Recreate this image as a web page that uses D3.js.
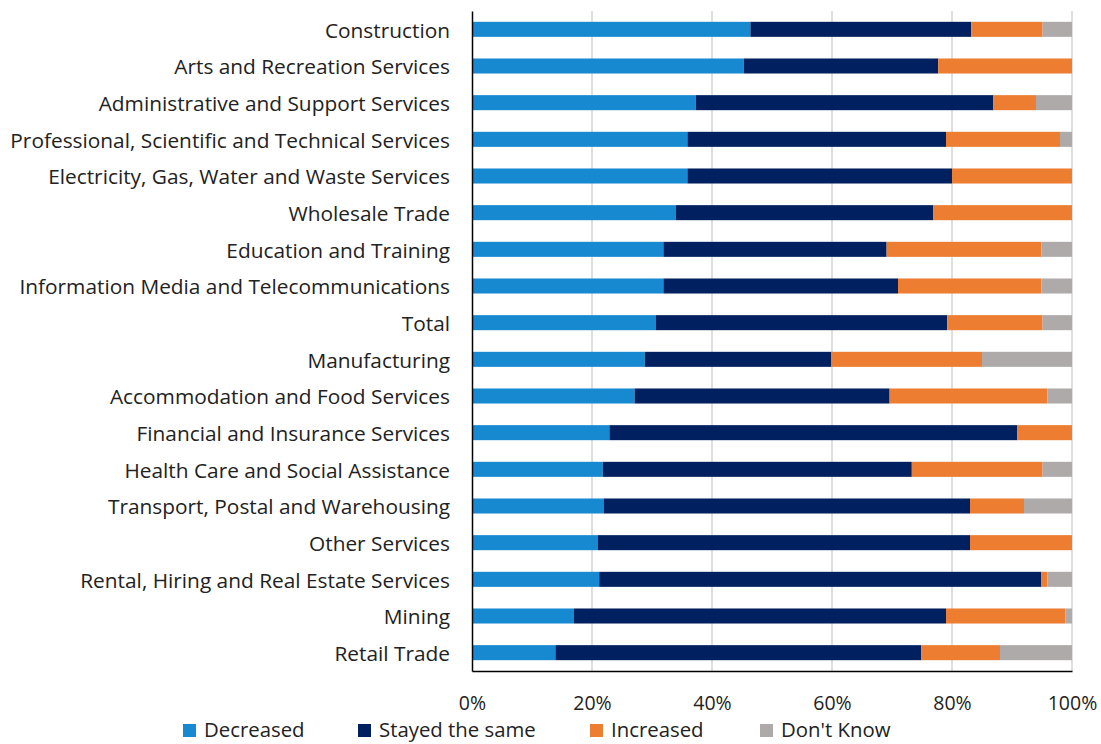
<!DOCTYPE html>
<html>
<head>
<meta charset="utf-8">
<script src="https://cdn.jsdelivr.net/npm/d3@7"></script>
<style>
  body { margin: 0; background: #fff; }
  svg { display: block; font-family: "Open Sans", "Noto Sans", sans-serif; }
</style>
</head>
<body>
<div id="chart"></div>
<script>
// categories, top to bottom
var categories = ["Construction", "Arts and Recreation Services", "Administrative and Support Services",
  "Professional, Scientific and Technical Services", "Electricity, Gas, Water and Waste Services",
  "Wholesale Trade", "Education and Training", "Information Media and Telecommunications", "Total",
  "Manufacturing", "Accommodation and Food Services", "Financial and Insurance Services",
  "Health Care and Social Assistance", "Transport, Postal and Warehousing", "Other Services",
  "Rental, Hiring and Real Estate Services", "Mining", "Retail Trade"];

var seriesNames = ["Decreased", "Stayed the same", "Increased", "Don't Know"];
var seriesColors = ["#1789d0", "#002060", "#ed7d31", "#aeaaaa"];

// percent values per series, same order as categories
var decreased = [46.4, 45.3, 37.3, 35.9, 35.9, 34.0, 31.9, 31.9, 30.6, 28.8, 27.1, 22.9, 21.8, 22.0, 21.0, 21.2, 17.0, 13.9];
var stayed    = [36.8, 32.4, 49.6, 43.1, 44.1, 42.9, 37.2, 39.1, 48.6, 31.1, 42.5, 68.0, 51.5, 61.0, 62.0, 73.7, 62.0, 61.0];
var increased = [11.9, 22.3,  7.1, 19.0, 20.0, 23.1, 25.8, 23.9, 15.9, 25.1, 26.3,  9.1, 21.8,  9.0, 17.0,  1.0, 19.9, 13.1];
var dontKnow  = [ 4.9,  0.0,  6.0,  2.0,  0.0,  0.0,  5.1,  5.1,  4.9, 15.0,  4.1,  0.0,  4.9,  8.0,  0.0,  4.1,  1.1, 12.0];

var tickValues = [0, 0.2, 0.4, 0.6, 0.8, 1.0];

// dimensions
var W = 1101, H = 744;
var margin = {top: 11, left: 472, right: 29, bottom: 73};
var plotW = W - margin.left - margin.right, plotH = H - margin.top - margin.bottom;
var labelFont = "'Open Sans', 'Noto Sans', sans-serif";

var table = categories.map(function(c, i) {
  return {cat: c, "Decreased": decreased[i], "Stayed the same": stayed[i],
    "Increased": increased[i], "Don't Know": dontKnow[i]};
});
var stacked = d3.stack().keys(seriesNames)
  .offset(d3.stackOffsetExpand)(table);

var x = d3.scaleLinear().domain([0, 1]).range([0, plotW]);
var y = d3.scaleBand().domain(categories).range([0, plotH]).paddingInner(0.59).paddingOuter(0.295);
var color = d3.scaleOrdinal().domain(seriesNames).range(seriesColors);

var svg = d3.select("#chart").append("svg")
  .attr("width", W).attr("height", H);

var g = svg.append("g")
  .attr("transform", `translate(${margin.left}, ${margin.top})`);

// vertical gridlines
g.append("g").selectAll("line")
  .data(tickValues.slice(1))
  .join("line")
  .attr("x1", d => x(d)).attr("x2", d => x(d))
  .attr("y1", 0).attr("y2", plotH)
  .attr("stroke", "#d4d4d4").attr("stroke-width", 1.5);

// bars
g.append("g").selectAll("g")
  .data(stacked)
  .join("g")
  .attr("fill", d => color(d.key))
  .selectAll("rect")
  .data(d => d)
  .join("rect")
  .attr("x", d => x(d[0]))
  .attr("y", d => y(d.data.cat))
  .attr("width", d => Math.max(0, x(d[1]) - x(d[0])))
  .attr("height", y.bandwidth());

// left axis (labels)
var yAxis = g.append("g").call(d3.axisLeft(y).tickSize(0).tickPadding(22))
  .attr("font-family", labelFont);
yAxis.select(".domain").attr("stroke", "#000").attr("stroke-width", 1.5);
yAxis.selectAll("text").attr("font-size", "19.5px").attr("fill", "#222")
  .attr("dy", "0.4em");

// bottom axis
var xAxis = g.append("g")
  .attr("transform", `translate(0, ${plotH})`)
  .call(d3.axisBottom(x).tickValues(tickValues).tickFormat(d3.format(".0%")).tickSize(0).tickPadding(25))
  .attr("font-family", labelFont);
xAxis.select(".domain").attr("stroke", "#000").attr("stroke-width", 1.5);
xAxis.selectAll("text").attr("font-size", "19.5px").attr("fill", "#222");

// fit category label width to reference (~440px for longest)
var maxW = 0;
yAxis.selectAll("text").each(function() { maxW = Math.max(maxW, this.getComputedTextLength()); });
var fs = 19.5 * 440 / maxW;
yAxis.selectAll("text").attr("font-size", fs + "px");

// legend (kept just inside the bottom edge)
var legendX = [183, 358, 590, 760];
var legend = svg.append("g").selectAll("g")
  .data(seriesNames)
  .join("g")
  .attr("transform", (d, i) => `translate(${legendX[i]}, 724)`);
legend.append("rect")
  .attr("width", 13).attr("height", 13)
  .attr("fill", d => color(d));
legend.append("text")
  .attr("x", 21).attr("y", 13)
  .attr("font-size", (fs - 0.5) + "px").attr("fill", "#222")
  .text(d => d);
</script>
</body>
</html>
